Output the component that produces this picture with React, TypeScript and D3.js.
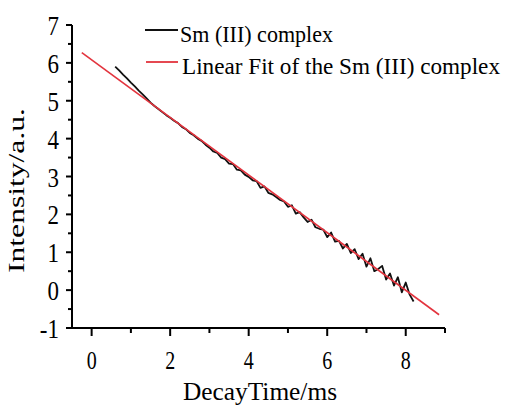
import { useEffect, useRef } from 'react';
import * as d3 from 'd3';

// decay curve, sampled every 0.1 ms from 0.6 ms
const decayStart = 0.6;
const decayStep = 0.1;
const decayIntensity = [
  5.90, 5.80, 5.69, 5.59, 5.48, 5.38, 5.27, 5.17, 5.06, 4.95,
  4.86, 4.78, 4.70, 4.62, 4.55, 4.47, 4.41, 4.31, 4.25, 4.15,
  4.09, 4.00, 3.94, 3.84, 3.76, 3.66, 3.62, 3.50, 3.46, 3.34,
  3.33, 3.18, 3.16, 3.05, 2.99, 2.90, 2.88, 2.70, 2.74, 2.57,
  2.53, 2.46, 2.38, 2.34, 2.20, 2.24, 2.02, 2.06, 1.92, 1.80,
  1.86, 1.66, 1.62, 1.60, 1.40, 1.52, 1.28, 1.30, 1.10, 1.22,
  0.98, 1.08, 0.82, 0.96, 0.62, 0.84, 0.50, 0.56, 0.64, 0.28,
  0.44, 0.12, 0.34, -0.06, 0.20, -0.12, -0.30,
];

// linear fit end points
const fitTime = [-0.25, 8.85];
const fitIntensity = [6.27, -0.65];

const xMajorTicks = [0, 2, 4, 6, 8];
const xMinorTicks = [1, 3, 5, 7, 9];
const yMajorTicks = [-1, 0, 1, 2, 3, 4, 5, 6, 7];
const yMinorTicks = [-0.5, 0.5, 1.5, 2.5, 3.5, 4.5, 5.5, 6.5];

const legendLabels = ['Sm (III) complex', 'Linear Fit of the Sm (III) complex'];
const seriesColors = ['#111111', '#e3343e'];

export default function App() {
  const svgRef = useRef<SVGSVGElement>(null);

  useEffect(() => {
    const svg = d3.select(svgRef.current);
    svg.selectAll('*').remove();

    const font = "'Liberation Serif', 'DejaVu Serif', serif";

    const x = d3.scaleLinear().domain([-0.5, 9]).range([72, 445]);
    const y = d3.scaleLinear().domain([-1, 7]).range([328, 25]);

    const decay = decayIntensity.map((v, i) => ({ t: decayStart + i * decayStep, v }));
    const fit = fitTime.map((t, i) => ({ t, v: fitIntensity[i] }));

    const line = d3.line<{ t: number; v: number }>()
      .x(d => x(d.t))
      .y(d => y(d.v));

    // series
    svg.append('path')
      .datum(decay)
      .attr('d', line)
      .attr('fill', 'none')
      .attr('stroke', seriesColors[0])
      .attr('stroke-width', 1.8)
      .attr('stroke-linejoin', 'round');

    svg.append('path')
      .datum(fit)
      .attr('d', line)
      .attr('fill', 'none')
      .attr('stroke', seriesColors[1])
      .attr('stroke-width', 1.6);

    // axes
    const axes = svg.append('g').attr('stroke', '#000').attr('stroke-width', 2);
    axes.append('line')
      .attr('x1', x(-0.5)).attr('x2', x(-0.5))
      .attr('y1', y(7)).attr('y2', y(-1) + 1);
    axes.append('line')
      .attr('x1', x(-0.5) - 1).attr('x2', x(9))
      .attr('y1', y(-1)).attr('y2', y(-1));

    axes.selectAll('.ymaj').data(yMajorTicks).join('line')
      .attr('x1', x(-0.5) - 6).attr('x2', x(-0.5))
      .attr('y1', d => y(d)).attr('y2', d => y(d));
    axes.selectAll('.ymin').data(yMinorTicks).join('line')
      .attr('x1', x(-0.5) - 4).attr('x2', x(-0.5))
      .attr('y1', d => y(d)).attr('y2', d => y(d));
    axes.selectAll('.xmaj').data(xMajorTicks).join('line')
      .attr('x1', d => x(d)).attr('x2', d => x(d))
      .attr('y1', y(-1)).attr('y2', y(-1) + 8);
    axes.selectAll('.xmin').data(xMinorTicks).join('line')
      .attr('x1', d => x(d)).attr('x2', d => x(d))
      .attr('y1', y(-1)).attr('y2', y(-1) + 5);

    // tick labels
    svg.append('g').selectAll('text').data(yMajorTicks).join('text')
      .attr('transform', d => `translate(59,${y(d)}) scale(0.82,1)`)
      .attr('dy', '0.36em')
      .attr('text-anchor', 'end')
      .attr('font-family', font)
      .attr('font-size', 28)
      .text(d => (d < 0 ? '-' + Math.abs(d) : String(d)));

    svg.append('g').selectAll('text').data(xMajorTicks).join('text')
      .attr('transform', d => `translate(${x(d)},369) scale(0.8,1)`)
      .attr('text-anchor', 'middle')
      .attr('font-family', font)
      .attr('font-size', 25)
      .text(d => String(d));

    // axis titles
    svg.append('text')
      .attr('x', 183)
      .attr('y', 400)
      .attr('textLength', 154)
      .attr('lengthAdjust', 'spacingAndGlyphs')
      .attr('font-family', font)
      .attr('font-size', 26)
      .text('DecayTime/ms');

    svg.append('text')
      .attr('transform', 'translate(24,273) rotate(-90)')
      .attr('textLength', 165)
      .attr('lengthAdjust', 'spacingAndGlyphs')
      .attr('font-family', font)
      .attr('font-size', 23)
      .text('Intensity/a.u.');

    // legend
    const rows = svg.append('g').selectAll('g').data(legendLabels).join('g')
      .attr('transform', (_, i) => `translate(145,${42 + i * 32})`);
    rows.append('line')
      .attr('x1', (_, i) => i * 1).attr('x2', 33)
      .attr('y1', -12).attr('y2', -12)
      .attr('stroke', (_, i) => seriesColors[i])
      .attr('stroke-width', 1.8);
    rows.append('text')
      .attr('x', (_, i) => 35 + i * 2)
      .attr('textLength', (_, i) => (i === 0 ? 153 : 318))
      .attr('lengthAdjust', 'spacingAndGlyphs')
      .attr('font-family', font)
      .attr('font-size', 23)
      .text(d => d);
  }, []);

  return (
    <svg
      ref={svgRef}
      width={506}
      height={406}
      style={{ position: 'absolute', left: 0, top: 0, background: '#fff' }}
    />
  );
}
